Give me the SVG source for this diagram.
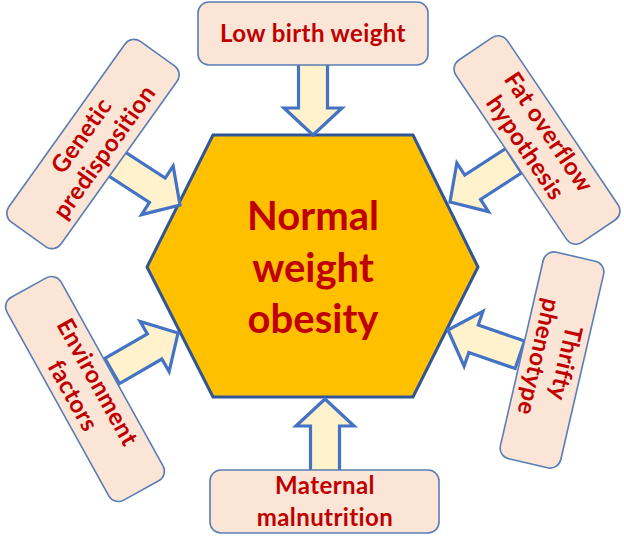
<svg xmlns="http://www.w3.org/2000/svg" width="624" height="554" viewBox="0 0 624 554">
<style>
.box{fill:#FBE5D6;stroke:#5A7DB4;stroke-width:1.6}
.arr{fill:#FFF2CC;stroke:#4472C4;stroke-width:3.2;stroke-linejoin:miter}
.t{font-family:Lato,"Liberation Sans",sans-serif;font-weight:bold;fill:#C00000;text-anchor:middle}
.s{font-size:24px;letter-spacing:0.4px}
.big{font-size:40px}
</style>
<defs>
<path id="arrow" d="M0,0 L-27,-29 L-27,-14.5 L-76,-14.5 L-76,14.5 L-27,14.5 L-27,29 Z"/>
</defs>
<rect width="624" height="554" fill="#fff"/>
<g id="center">
<polygon points="213,135 413,135 478,267 413,397 213,397 147,267" fill="#FFC000" stroke="#2F5597" stroke-width="3"/>
<text class="t big" x="313" y="230">Normal</text>
<text class="t big" x="313" y="282">weight</text>
<text class="t big" x="313" y="333">obesity</text>
</g>
<g id="connectors">
<use href="#arrow" class="arr" transform="translate(313,135) rotate(90)"/>
<use href="#arrow" class="arr" transform="translate(325,399) rotate(-90)"/>
<use href="#arrow" class="arr" transform="translate(180,205) rotate(33)"/>
<use href="#arrow" class="arr" transform="translate(450,202) rotate(147)"/>
<use href="#arrow" class="arr" transform="translate(178,333) rotate(-30)"/>
<use href="#arrow" class="arr" transform="translate(448,330) rotate(199)"/>
</g>
<g id="low-birth-weight">
<rect class="box" x="198" y="2" width="230" height="63" rx="11"/>
<text class="t s" x="313" y="42">Low birth weight</text>
</g>
<g id="maternal-malnutrition">
<rect class="box" x="210" y="470" width="229" height="63" rx="11"/>
<text class="t s" x="325" y="494">Maternal</text>
<text class="t s" x="325" y="526">malnutrition</text>
</g>
<g id="genetic-predisposition" transform="translate(93,144) rotate(-54.5)">
<rect class="box" x="-111" y="-32" width="222" height="64" rx="11"/>
<text class="t s" x="0" y="-6">Genetic</text>
<text class="t s" x="0" y="22">predisposition</text>
</g>
<g id="fat-overflow-hypothesis" transform="translate(537,140) rotate(56)">
<rect class="box" x="-110" y="-31" width="220" height="62" rx="11"/>
<text class="t s" x="0" y="-6">Fat overflow</text>
<text class="t s" x="0" y="22">hypothesis</text>
</g>
<g id="environment-factors" transform="translate(85,389) rotate(61)">
<rect class="box" x="-116" y="-31" width="232" height="62" rx="11"/>
<text class="t s" x="0" y="-6">Environment</text>
<text class="t s" x="0" y="22">factors</text>
</g>
<g id="thrifty-phenotype" transform="translate(552,360) rotate(103)">
<rect class="box" x="-106" y="-31" width="212" height="62" rx="11"/>
<text class="t s" x="0" y="-6">Thrifty</text>
<text class="t s" x="0" y="22">phenotype</text>
</g>
</svg>
